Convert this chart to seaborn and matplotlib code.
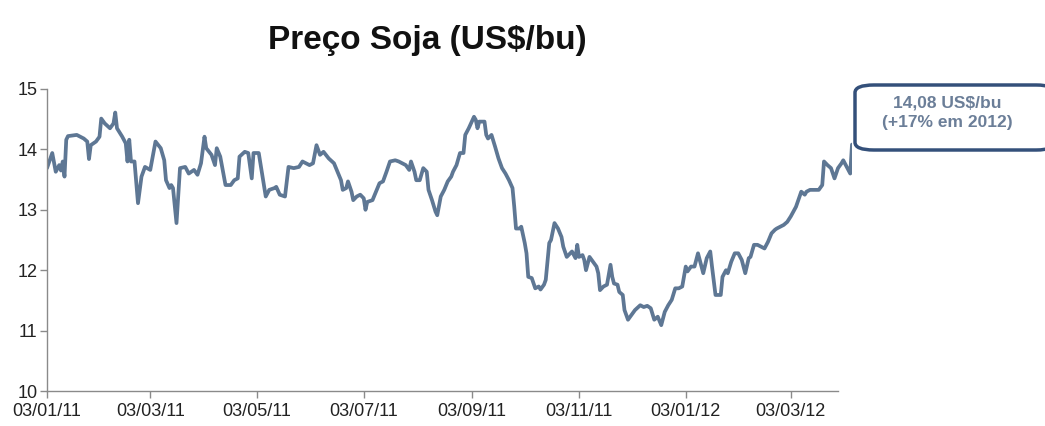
import pandas as pd
import numpy as np
import matplotlib.pyplot as plt
import matplotlib.dates as mdates
from matplotlib.patches import FancyBboxPatch
import seaborn as sns

# dados: dias desde 03/01/2011 e preço da soja (US$/bu)
inicio = '2011-01-03'
dias = [0, 3, 5, 7, 8, 9, 10, 11, 12, 17, 21, 23, 24, 25, 28, 30, 31, 33, 36, 38,
        39, 40, 43, 45, 46, 47, 48, 50, 52, 54, 56, 59, 62, 65, 67, 68, 70, 71, 72, 74,
        76, 79, 81, 84, 86, 88, 90, 91, 94, 96, 97, 99, 102, 105, 107, 109, 110, 113, 115, 117,
        118, 121, 125, 127, 130, 131, 133, 136, 138, 141, 144, 146, 150, 152, 154, 156, 158, 161, 164, 166,
        168, 169, 171, 172, 174, 175, 177, 179, 181, 182, 183, 186, 188, 190, 192, 194, 196, 199, 201, 203,
        205, 207, 208, 210, 211, 213, 215, 217, 218, 220, 222, 223, 225, 227, 229, 231, 232, 234, 236, 238,
        239, 241, 244, 245, 246, 247, 250, 251, 252, 254, 256, 258, 260, 262, 264, 266, 267, 268, 270, 271,
        273, 274, 275, 277, 279, 281, 282, 284, 285, 287, 288, 290, 292, 294, 295, 297, 299, 300, 302, 303,
        304, 306, 307, 308, 310, 312, 314, 315, 316, 318, 320, 322, 323, 324, 326, 327, 329, 330, 332, 334,
        336, 339, 341, 343, 345, 347, 349, 351, 353, 355, 357, 359, 361, 363, 365, 366, 368, 370, 372, 373,
        375, 377, 379, 380, 382, 385, 386, 388, 389, 391, 393, 395, 397, 399, 401, 402, 404, 406, 410, 412,
        414, 416, 417, 419, 421, 423, 425, 428, 431, 433, 434, 436, 439, 441, 443, 444, 446, 448, 450, 452,
        454, 455, 457, 459, 460]
preco = [13.69, 13.94, 13.63, 13.74, 13.65, 13.80, 13.55, 14.16, 14.22, 14.24, 14.18, 14.13, 13.84, 14.07, 14.13, 14.21, 14.51, 14.43, 14.35, 14.43,
         14.61, 14.35, 14.21, 14.10, 13.80, 14.16, 13.80, 13.80, 13.11, 13.55, 13.71, 13.66, 14.13, 14.02, 13.82, 13.49, 13.36, 13.41, 13.36, 12.78,
         13.69, 13.71, 13.60, 13.66, 13.58, 13.77, 14.21, 14.02, 13.91, 13.74, 14.02, 13.88, 13.41, 13.41, 13.49, 13.52, 13.88, 13.96, 13.94, 13.52,
         13.94, 13.94, 13.22, 13.33, 13.36, 13.38, 13.25, 13.22, 13.71, 13.69, 13.71, 13.80, 13.74, 13.77, 14.07, 13.91, 13.96, 13.85, 13.77, 13.63,
         13.49, 13.33, 13.36, 13.47, 13.30, 13.16, 13.22, 13.25, 13.19, 13.00, 13.13, 13.16, 13.30, 13.44, 13.47, 13.63, 13.80, 13.82, 13.80, 13.77,
         13.74, 13.66, 13.80, 13.63, 13.49, 13.49, 13.69, 13.63, 13.33, 13.16, 12.97, 12.91, 13.22, 13.33, 13.47, 13.55, 13.63, 13.74, 13.94, 13.94,
         14.24, 14.35, 14.54, 14.49, 14.35, 14.46, 14.46, 14.24, 14.18, 14.24, 14.05, 13.85, 13.69, 13.60, 13.49, 13.36, 13.05, 12.69, 12.69, 12.72,
         12.45, 12.28, 11.89, 11.87, 11.70, 11.73, 11.68, 11.76, 11.84, 12.45, 12.50, 12.78, 12.69, 12.55, 12.39, 12.22, 12.28, 12.31, 12.20, 12.42,
         12.22, 12.25, 12.17, 12.00, 12.22, 12.14, 12.06, 11.95, 11.67, 11.73, 11.76, 12.09, 11.89, 11.78, 11.76, 11.64, 11.59, 11.34, 11.18, 11.26,
         11.34, 11.42, 11.39, 11.41, 11.37, 11.18, 11.23, 11.09, 11.31, 11.42, 11.51, 11.70, 11.70, 11.73, 12.06, 11.98, 12.06, 12.06, 12.28, 12.17,
         11.95, 12.20, 12.31, 12.06, 11.59, 11.59, 11.89, 12.00, 11.95, 12.14, 12.28, 12.28, 12.17, 11.95, 12.20, 12.22, 12.42, 12.42, 12.36, 12.47,
         12.61, 12.67, 12.69, 12.72, 12.75, 12.80, 12.89, 13.05, 13.30, 13.25, 13.30, 13.33, 13.33, 13.33, 13.41, 13.80, 13.74, 13.69, 13.52, 13.69,
         13.77, 13.82, 13.71, 13.60, 14.08]

titulo = 'Preço Soja (US$/bu)'
nota = '14,08 US$/bu\n(+17% em 2012)'
yticks = [10, 11, 12, 13, 14, 15]
xticks = ['2011-01-03', '2011-03-03', '2011-05-03', '2011-07-03',
          '2011-09-03', '2011-11-03', '2012-01-03', '2012-03-03']

df = pd.DataFrame({'data': pd.Timestamp(inicio) + pd.to_timedelta(dias, unit='D'),
                   'preco': preco})

sns.set_style('white')
plt.rcParams['font.family'] = ['Liberation Sans', 'DejaVu Sans']

fig = plt.figure(figsize=(10.45, 4.26), dpi=100)
ax = fig.add_axes([47 / 1045, 1 - 391 / 426, (852 - 47) / 1045, (391 - 89) / 426])

sns.lineplot(data=df, x='data', y='preco', ax=ax, color='#5e7794', linewidth=2.7)

ax.set_ylim(10, 15)
ax.set_yticks(yticks)
ax.set_xlim(df['data'].iloc[0], df['data'].iloc[-1])
ax.set_xticks(pd.to_datetime(xticks))
ax.xaxis.set_major_formatter(mdates.DateFormatter('%d/%m/%y'))
ax.set_xlabel('')
ax.set_ylabel('')

for s in ['top', 'right']:
    ax.spines[s].set_visible(False)
for s in ['left', 'bottom']:
    ax.spines[s].set_color('#8a8a8a')
    ax.spines[s].set_linewidth(1.0)
fim_eixo = pd.Timestamp(inicio) + pd.Timedelta(days=452)
ax.spines['bottom'].set_bounds(mdates.date2num(df['data'].iloc[0]), mdates.date2num(fim_eixo))
ax.tick_params(axis='both', which='major', length=5, width=1, color='#8a8a8a',
               labelsize=13, labelcolor='#222222', direction='out')
ax.tick_params(axis='x', bottom=True, pad=4)
ax.tick_params(axis='y', left=True, pad=2)

fig.text(427 / 1045, 1 - 40 / 426, titulo, ha='center', va='center',
         fontsize=24, fontweight='bold', color='#111111')

caixa = FancyBboxPatch((855 / 1045, 1 - 150 / 426), 200 / 1045, 65 / 426,
                       boxstyle='round,pad=0,rounding_size=0.018',
                       transform=fig.transFigure, facecolor='white',
                       edgecolor='#34507a', linewidth=2.5, clip_on=False)
fig.patches.append(caixa)
fig.text(947 / 1045, 1 - 113 / 426, nota, ha='center', va='center',
         fontsize=12.5, fontweight='bold', color='#6b7e98', linespacing=1.35)

fig.savefig('out.png', dpi=100)
